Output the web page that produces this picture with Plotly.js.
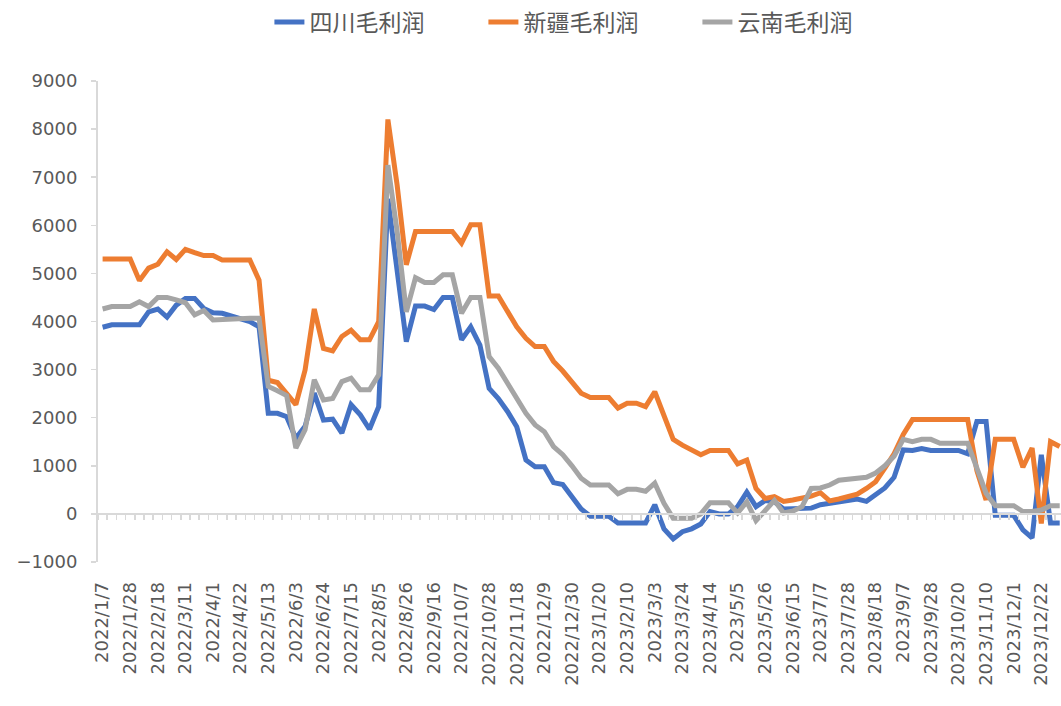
<!DOCTYPE html>
<html>
<head>
<meta charset="utf-8">
<script src="https://cdn.plot.ly/plotly-3.0.1.min.js"></script>
<style>html,body{margin:0;padding:0;background:#fff;}#chart{width:1061px;height:706px;}</style>
</head>
<body>
<div id="chart"></div>
<script>
const dates = [
"2022/1/7","2022/1/14","2022/1/21","2022/1/28","2022/2/4","2022/2/11","2022/2/18","2022/2/25","2022/3/4","2022/3/11",
"2022/3/18","2022/3/25","2022/4/1","2022/4/8","2022/4/15","2022/4/22","2022/4/29","2022/5/6","2022/5/13","2022/5/20",
"2022/5/27","2022/6/3","2022/6/10","2022/6/17","2022/6/24","2022/7/1","2022/7/8","2022/7/15","2022/7/22","2022/7/29",
"2022/8/5","2022/8/12","2022/8/19","2022/8/26","2022/9/2","2022/9/9","2022/9/16","2022/9/23","2022/9/30","2022/10/7",
"2022/10/14","2022/10/21","2022/10/28","2022/11/4","2022/11/11","2022/11/18","2022/11/25","2022/12/2","2022/12/9","2022/12/16",
"2022/12/23","2022/12/30","2023/1/6","2023/1/13","2023/1/20","2023/1/27","2023/2/3","2023/2/10","2023/2/17","2023/2/24",
"2023/3/3","2023/3/10","2023/3/17","2023/3/24","2023/3/31","2023/4/7","2023/4/14","2023/4/21","2023/4/28","2023/5/5",
"2023/5/12","2023/5/19","2023/5/26","2023/6/2","2023/6/9","2023/6/15","2023/6/21","2023/6/30","2023/7/7","2023/7/14",
"2023/7/21","2023/7/28","2023/8/4","2023/8/11","2023/8/18","2023/8/25","2023/9/1","2023/9/7","2023/9/15","2023/9/22",
"2023/9/28","2023/10/7","2023/10/13","2023/10/20","2023/10/27","2023/11/3","2023/11/10","2023/11/17","2023/11/24","2023/12/1",
"2023/12/8","2023/12/15","2023/12/22","2023/12/29","2024/1/5"
];

const sichuan = [
3880,3930,3930,3930,3930,4200,4260,4090,4340,4480,
4480,4270,4180,4170,4120,4070,4000,3890,2090,2090,
2020,1570,1820,2510,1950,1970,1680,2270,2060,1760,
2230,6550,5070,3580,4320,4320,4250,4500,4500,3620,
3890,3510,2610,2400,2130,1810,1120,980,980,650,
610,360,100,-50,-50,-50,-190,-190,-190,-190,
190,-310,-520,-370,-310,-210,50,0,0,150,
450,150,280,250,100,100,110,120,190,220,
260,300,310,260,400,540,760,1330,1320,1360,
1320,1320,1320,1320,1250,1920,1920,-30,-30,-30,
-330,-500,1230,-190,-190
];

const xinjiang = [
5300,5300,5300,5300,4850,5110,5190,5450,5290,5500,
5430,5370,5370,5280,5280,5280,5280,4860,2780,2730,
2510,2270,2990,4260,3440,3390,3690,3820,3620,3620,
4000,8200,6840,5180,5870,5870,5870,5870,5870,5630,
6010,6010,4530,4530,4200,3890,3650,3480,3480,3170,
2970,2750,2510,2420,2420,2420,2200,2300,2300,2230,
2540,2050,1550,1430,1330,1230,1320,1320,1320,1040,
1120,530,320,360,260,290,320,370,440,270,
310,360,410,530,670,950,1250,1650,1960,1960,
1960,1960,1960,1960,1960,900,290,1550,1550,1550,
970,1370,-200,1500,1400
];

const yunnan = [
4260,4310,4310,4310,4410,4310,4500,4500,4450,4390,
4140,4230,4030,4040,4070,4070,4070,4070,2650,2560,
2460,1370,1750,2790,2370,2400,2750,2820,2580,2580,
2890,7250,5880,4200,4910,4810,4810,4970,4970,4170,
4500,4500,3270,3030,2720,2370,2090,1850,1710,1400,
1230,1000,740,600,600,600,420,510,510,470,
640,220,-90,-90,-90,0,230,230,230,20,
250,-140,70,280,20,60,150,530,540,600,
700,720,740,760,850,1000,1200,1550,1500,1550,
1550,1470,1470,1470,1470,950,430,170,170,170,
50,50,80,170,170
];

const seriesNames = ["四川毛利润","新疆毛利润","云南毛利润"];
const seriesColors = ["#4472C4","#ED7D31","#A5A5A5"];
const yTicks = [-1000,0,1000,2000,3000,4000,5000,6000,7000,8000,9000];

const idx = dates.map((d,i)=>i);
const labelIdx = idx.filter(i => i % 3 === 0);
const labelText = labelIdx.map(i => dates[i]);

const traces = [sichuan, xinjiang, yunnan].map((vals, k) => ({
  type: "scatter",
  mode: "lines",
  x: idx,
  y: vals,
  name: seriesNames[k],
  text: dates,
  line: {color: seriesColors[k], width: 5, shape: "linear"},
  hoverinfo: "text+y+name"
}));

const layout = {
  width: 1061,
  height: 706,
  margin: {l: 98, r: 0, t: 81, b: 144, pad: 0},
  paper_bgcolor: "#ffffff",
  plot_bgcolor: "#ffffff",
  font: {family: "DejaVu Sans, Noto Sans CJK SC, sans-serif", color: "#595959"},
  showlegend: true,
  legend: {
    orientation: "h",
    x: 0.178, xanchor: "left",
    y: 1.1227, yanchor: "middle",
    font: {family: "Noto Sans CJK SC, sans-serif", size: 23, color: "#595959"},
    entrywidth: 169,
    bgcolor: "rgba(0,0,0,0)"
  },
  xaxis: {
    type: "linear",
    range: [-0.5, 104.14],
    anchor: "free",
    position: 0.1,
    showline: true,
    linecolor: "#d9d9d9",
    linewidth: 2,
    showgrid: false,
    zeroline: false,
    tickmode: "array",
    tickvals: labelIdx,
    ticktext: labelText,
    ticks: "",
    tickangle: -90,
    ticklabelstandoff: 60,
    tickfont: {family: "DejaVu Sans, sans-serif", size: 18, color: "#595959"},
    minor: {
      tickmode: "linear",
      tick0: 0.5,
      dtick: 1,
      ticks: "outside",
      ticklen: 5,
      tickwidth: 1.5,
      tickcolor: "#d9d9d9",
      showgrid: false
    },
    fixedrange: true
  },
  yaxis: {
    range: [-1000, 9000],
    tickmode: "array",
    tickvals: yTicks,
    ticktext: yTicks.map(v => v < 0 ? "\u2212" + Math.abs(v) : String(v)),
    showline: true,
    linecolor: "#d9d9d9",
    linewidth: 2,
    ticks: "outside",
    ticklen: 5,
    tickwidth: 1.5,
    tickcolor: "#d9d9d9",
    showgrid: false,
    zeroline: false,
    tickfont: {family: "DejaVu Sans, sans-serif", size: 18, color: "#595959"},
    ticklabelstandoff: 10,
    fixedrange: true
  }
};

Plotly.newPlot("chart", traces, layout, {displayModeBar: false, staticPlot: true});
</script>
</body>
</html>
